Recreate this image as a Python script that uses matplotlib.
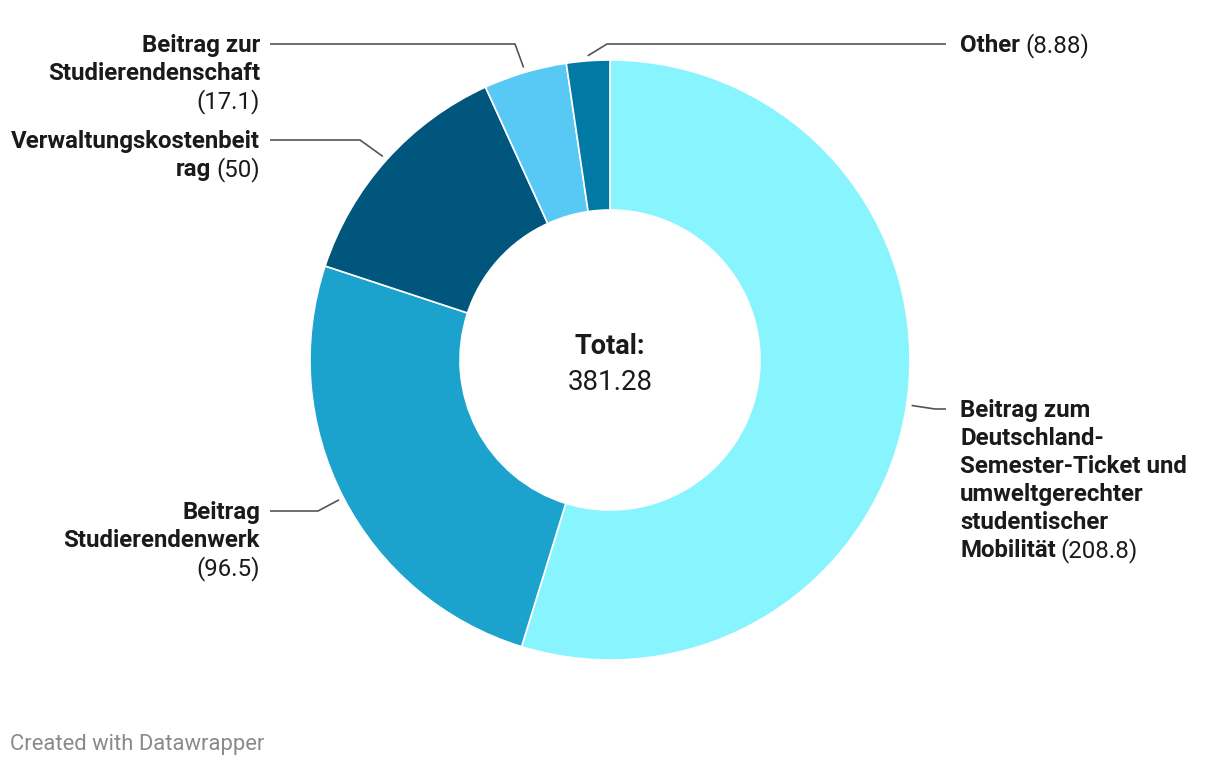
import math
import matplotlib
matplotlib.use("Agg")
import matplotlib.pyplot as plt

plt.rcParams['font.family'] = ['Roboto', 'DejaVu Sans']

categories = ["Beitrag zum\nDeutschland-\nSemester-Ticket und\numweltgerechter\nstudentischer\nMobilität",
              "Beitrag\nStudierendenwerk",
              "Verwaltungskostenbeit\nrag",
              "Beitrag zur\nStudierendenschaft",
              "Other"]
values = [208.8, 96.5, 50, 17.1, 8.88]
value_labels = ["208.8", "96.5", "50", "17.1", "8.88"]
colors = ["#88f4fe", "#1ba2cd", "#00567c", "#58c9f4", "#0079a4"]
total_text = "381.28"

# layout: elbow of the leader line (pixels from top-left), label side, value on own line?
elbows = [(935, 409), (318, 511), (360, 140), (515, 44), (607, 44)]
on_right = [True, False, False, False, True]
value_own_line = [False, True, False, True, False]

W, H = 1220, 766
fig = plt.figure(figsize=(12.2, 7.66), dpi=100)
ax = fig.add_axes([0, 0, 1, 1])

cx, cy, R = 610, 360, 300
wedges, _ = ax.pie(values, colors=colors, startangle=90, counterclock=False,
                   radius=R, center=(cx, H - cy),
                   wedgeprops=dict(width=150, edgecolor='white', linewidth=1.2))
ax.set_xlim(0, W)
ax.set_ylim(0, H)
ax.set_aspect('equal')
ax.axis('off')

renderer = fig.canvas.get_renderer()
dark = '#1a1a1a'
fs = 17.3
lh = 28

for w, cat, val, (ex, ey), right, own in zip(wedges, categories, value_labels, elbows,
                                            on_right, value_own_line):
    mid = math.radians((w.theta1 + w.theta2) / 2)
    sx = cx + 305 * math.cos(mid)
    sy = H - cy + 305 * math.sin(mid)
    end_x = 946 if right else 270
    ax.plot([sx, ex, end_x], [sy, H - ey, H - ey], color='#555555', lw=1.2,
            solid_capstyle='butt')

    tx = 960 if right else 260
    ha = 'left' if right else 'right'
    lines = cat.split('\n')
    if own:
        lines = lines + [None]
    for i, line in enumerate(lines):
        by = H - (ey + 8 + lh * i)
        last = i == len(lines) - 1
        if line is None:
            ax.text(tx, by, "(" + val + ")", ha=ha, va='baseline', fontsize=fs, color=dark)
        elif last and not own:
            if right:
                t = ax.text(tx, by, line, ha='left', va='baseline', fontsize=fs,
                            fontweight='bold', color=dark)
                bw = t.get_window_extent(renderer).width
                ax.text(tx + bw + 5, by, "(" + val + ")", ha='left', va='baseline',
                        fontsize=fs, color=dark)
            else:
                t = ax.text(tx, by, "(" + val + ")", ha='right', va='baseline',
                            fontsize=fs, color=dark)
                bw = t.get_window_extent(renderer).width
                ax.text(tx - bw - 5, by, line, ha='right', va='baseline', fontsize=fs,
                        fontweight='bold', color=dark)
        else:
            ax.text(tx, by, line, ha=ha, va='baseline', fontsize=fs,
                    fontweight='bold', color=dark)

ax.text(cx, H - 354, "Total:", ha='center', va='baseline', fontsize=19.5,
        fontweight='bold', color=dark)
ax.text(cx, H - 390, total_text, ha='center', va='baseline', fontsize=20, color=dark)

ax.text(10, H - 750, "Created with Datawrapper", ha='left', va='baseline',
        fontsize=15.8, color='#8a8a8a')

fig.savefig("out.png", dpi=100)
